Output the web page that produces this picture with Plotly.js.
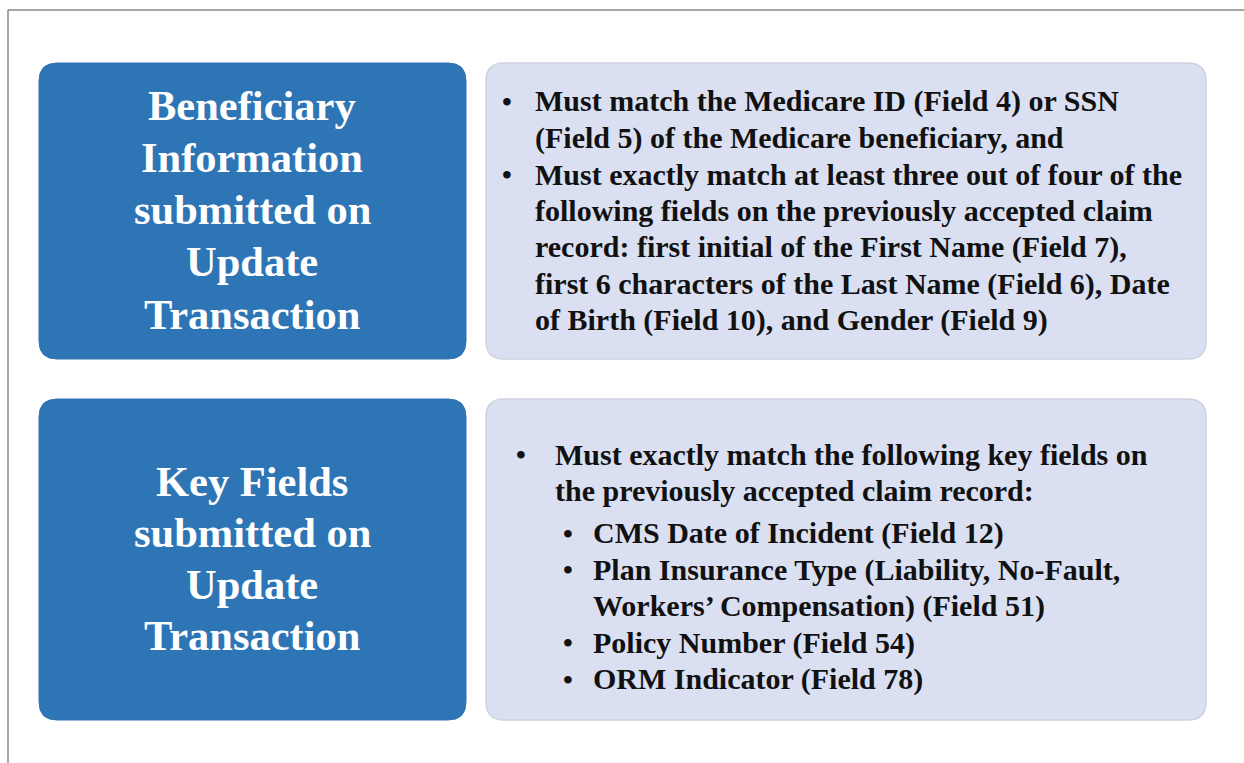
<!DOCTYPE html>
<html><head><meta charset="utf-8">
<script src="https://cdn.plot.ly/plotly-3.0.1.min.js"></script>
<style>html,body{margin:0;padding:0;background:#fff}#c{width:1244px;height:763px}</style>
</head><body><div id="c"></div>
<script>
// Content
const leftLabels1 = ["Beneficiary", "Information", "submitted on", "Update", "Transaction"];
const leftLabels2 = ["Key Fields", "submitted on", "Update", "Transaction"];
const rightBullets1 = [
  ["Must match the Medicare ID (Field 4) or SSN", "(Field 5) of the Medicare beneficiary, and"],
  ["Must exactly match at least three out of four of the", "following fields on the previously accepted claim",
   "record: first initial of the First Name (Field 7),", "first 6 characters of the Last Name (Field 6), Date",
   "of Birth (Field 10), and Gender (Field 9)"]
];
const rightIntro2 = ["Must exactly match the following key fields on", "the previously accepted claim record:"];
const rightSub2 = [
  ["CMS Date of Incident (Field 12)"],
  ["Plan Insurance Type (Liability, No-Fault,", "Workers\u2019 Compensation) (Field 51)"],
  ["Policy Number (Field 54)"],
  ["ORM Indicator (Field 78)"]
];

function rr(x0, y0, x1, y1, r) {
  return `M${x0+r},${y0} L${x1-r},${y0} Q${x1},${y0} ${x1},${y0+r} L${x1},${y1-r} Q${x1},${y1} ${x1-r},${y1} L${x0+r},${y1} Q${x0},${y1} ${x0},${y1-r} L${x0},${y0+r} Q${x0},${y0} ${x0+r},${y0} Z`;
}
const BLUE = '#2E75B6', LIGHT = '#DAE0F2', EDGE = '#CDD2DE';
const shapes = [
  {type:'line', x0:8, x1:1244, y0:10, y1:10, line:{color:'#8a8a8a', width:1.5}},
  {type:'line', x0:8, x1:8, y0:10, y1:763, line:{color:'#8a8a8a', width:1.5}},
  {type:'path', path: rr(39,63,466,359,18), fillcolor:BLUE, line:{color:BLUE, width:1}},
  {type:'path', path: rr(486,63,1206,359,18), fillcolor:LIGHT, line:{color:EDGE, width:1.5}},
  {type:'path', path: rr(39,399,466,720,18), fillcolor:BLUE, line:{color:BLUE, width:1}},
  {type:'path', path: rr(486,399,1206,720,18), fillcolor:LIGHT, line:{color:EDGE, width:1.5}}
];
const ann = [];
const FF = 'Liberation Serif';
function txt(x, y, t, size, color, anchor) {
  ann.push({x:x, y:y, xref:'x', yref:'y', text:t, showarrow:false,
    xanchor:anchor, yanchor:'middle', font:{family:FF, size:size, color:color, weight:'bold'}, borderpad:0});
}
const LS = 42.5, RS = 30;
// Left labels
let y = 105;
leftLabels1.forEach((t,i)=>txt(252, y + i*52.3, t, LS, '#ffffff', 'center'));
y = 481;
leftLabels2.forEach((t,i)=>txt(252, y + i*51.5, t, LS, '#ffffff', 'center'));
// Right box 1
const LH = 36.5;
y = 101;
rightBullets1.forEach(b=>{
  txt(501, y, '\u2022', 28, '#111', 'left');
  b.forEach(line=>{ txt(534, y, line, RS, '#111', 'left'); y += LH; });
});
// Right box 2
y = 454;
txt(515, y, '\u2022', 28, '#111', 'left');
rightIntro2.forEach(line=>{ txt(554, y, line, RS, '#111', 'left'); y += LH; });
y = 533;
rightSub2.forEach(b=>{
  txt(562, y, '\u2022', 28, '#111', 'left');
  b.forEach(line=>{ txt(592, y, line, RS, '#111', 'left'); y += LH; });
});

Plotly.newPlot('c', [], {
  width:1244, height:763, margin:{l:0,r:0,t:0,b:0},
  paper_bgcolor:'#fff', plot_bgcolor:'#fff',
  xaxis:{range:[0,1244], visible:false, fixedrange:true},
  yaxis:{range:[763,0], visible:false, fixedrange:true},
  shapes:shapes, annotations:ann, showlegend:false
}, {displayModeBar:false, staticPlot:true});
</script></body></html>
